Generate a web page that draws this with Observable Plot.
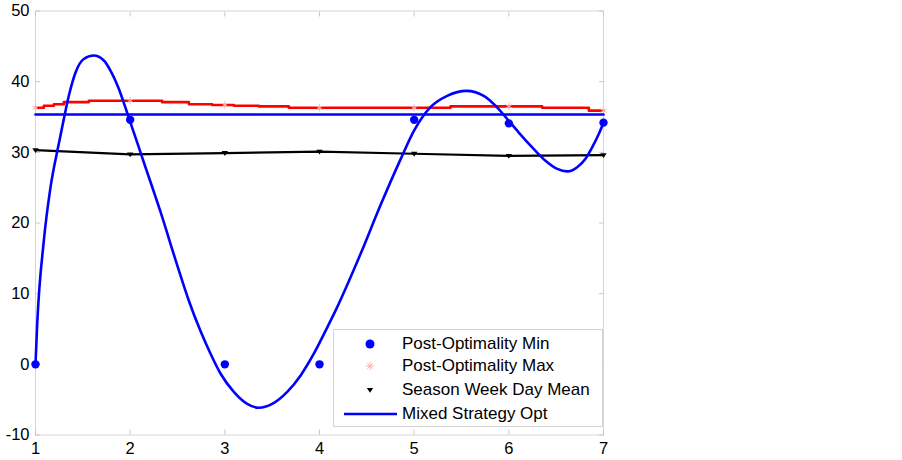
<!DOCTYPE html>
<html><head><meta charset="utf-8">
<script src="https://cdn.jsdelivr.net/npm/d3@7"></script>
<script src="https://cdn.jsdelivr.net/npm/@observablehq/plot@0.6"></script>
<style>
html,body{margin:0;padding:0;background:#fff;}
#wrap{position:relative;width:902px;height:460px;font-family:"Liberation Sans",Arial,sans-serif;}
#legend{position:absolute;left:333px;top:329px;width:270px;height:98px;border:1px solid #d4d4d4;background:#fff;box-sizing:border-box;}
.row{position:absolute;left:0;height:20px;display:flex;align-items:center;font-size:17px;color:#000;white-space:nowrap;}
.row svg{display:block;flex:none;}
</style></head>
<body><div id="wrap"><div id="legend"></div></div>
<script>
// ---- data ----
const days = [1, 2, 3, 4, 5, 6, 7];
const postOptMin = [0, 34.6, 0, 0, 34.6, 34.1, 34.2];
const postOptMax = [36.3, 37.3, 36.7, 36.3, 36.3, 36.5, 35.9];
const seasonMean = [30.3, 29.7, 29.9, 30.1, 29.8, 29.5, 29.6];
const mixedOptLevel = [35.35, 35.35, 35.35, 35.35, 35.35, 35.35, 35.35];

// red staircase trace of the maximum
const maxTraceX = [1, 1.088, 1.194, 1.299, 1.563, 2.338, 2.62, 2.866, 3.095, 3.359, 3.676, 5.384, 6.352, 6.845, 7];
const maxTraceY = [36.3, 36.6, 36.8, 37.1, 37.3, 37.1, 36.8, 36.7, 36.6, 36.5, 36.3, 36.5, 36.3, 35.9, 35.9];

// blue mixed strategy curve
const mixedCurveX = [1.0, 1.018, 1.088, 1.158, 1.246, 1.299, 1.352, 1.423, 1.51, 1.616, 1.722, 1.81, 1.88, 1.943, 2.003, 2.074, 2.144, 2.32, 2.5, 2.62, 2.743, 2.849, 2.954, 3.095, 3.236, 3.359, 3.5, 3.659, 3.799, 3.94, 4.081, 4.187, 4.433, 4.644, 4.856, 5.0, 5.172, 5.349, 5.553, 5.735, 5.859, 5.965, 6.105, 6.247, 6.387, 6.511, 6.616, 6.722, 6.81, 6.88, 6.95, 7.0];
const mixedCurveY = [0, 5.7, 17.5, 25.0, 31.2, 34.7, 38.0, 41.3, 43.2, 43.7, 43.0, 41.1, 39.0, 36.6, 34.2, 31.4, 28.6, 21.6, 13.9, 9.0, 4.7, 1.5, -1.3, -3.9, -5.6, -6.15, -5.6, -3.9, -1.6, 1.5, 5.2, 8.1, 15.6, 22.5, 29.0, 33.1, 36.4, 38.0, 38.7, 38.0, 36.6, 35.0, 32.8, 30.7, 28.8, 27.65, 27.3, 27.9, 29.1, 30.7, 32.6, 34.2];

const xTicks = [1, 2, 3, 4, 5, 6, 7];
const yTicks = [-10, 0, 10, 20, 30, 40, 50];

const seriesNames = ["Post-Optimality Min", "Post-Optimality Max", "Season Week Day Mean", "Mixed Strategy Opt"];

// ---- tables ----
const pts = days.map((d, i) => ({x: d, min: postOptMin[i], max: postOptMax[i], mean: seasonMean[i], opt: mixedOptLevel[i]}));
const maxTrace = maxTraceX.map((x, i) => ({x, y: maxTraceY[i]}));
const curve = mixedCurveX.map((x, i) => ({x, y: mixedCurveY[i]}));

const triDown = {
  draw(ctx, size) {
    const r = Math.sqrt(size / Math.PI);
    ctx.moveTo(-r, -r * 0.6);
    ctx.lineTo(r, -r * 0.6);
    ctx.lineTo(0, r * 0.9);
    ctx.closePath();
  }
};

const chart = Plot.plot({
  width: 902, height: 460,
  marginLeft: 35, marginRight: 299, marginTop: 10.5, marginBottom: 25.5,
  x: {domain: [1, 7]},
  y: {domain: [-10, 50]},
  style: {fontFamily: "'Liberation Sans', Arial, sans-serif", fontSize: "16.5px", color: "#000", background: "#fff"},
  marks: [
    Plot.frame({stroke: "#d6d6d6"}),
    Plot.axisX(xTicks, {anchor: "bottom", tickSize: -5, tickPadding: 12, stroke: "#c8c8c8", color: "#000", label: null, tickFormat: d => String(d)}),
    Plot.axisX(xTicks, {anchor: "top", tickSize: -5, stroke: "#c8c8c8", label: null, tickFormat: () => ""}),
    Plot.axisY(yTicks, {anchor: "left", tickSize: -5, tickPadding: 11, stroke: "#c8c8c8", color: "#000", label: null, tickFormat: d => String(d)}),
    Plot.axisY(yTicks, {anchor: "right", tickSize: -5, stroke: "#c8c8c8", label: null, tickFormat: () => ""}),
    Plot.line(pts, {x: "x", y: "mean", stroke: "#000", strokeWidth: 2.2}),
    Plot.line(maxTrace, {x: "x", y: "y", curve: "step-after", stroke: "#ff0000", strokeWidth: 2.6}),
    Plot.dot(pts, {x: "x", y: "max", symbol: "asterisk", r: 3.5, stroke: "#ffb4b4", strokeWidth: 1}),
    Plot.line(pts, {x: "x", y: "opt", stroke: "#0000ff", strokeWidth: 2.6}),
    Plot.line(curve, {x: "x", y: "y", curve: "monotone-x", stroke: "#0000ff", strokeWidth: 2.6}),
    Plot.dot(pts, {x: "x", y: "min", r: 4.2, fill: "#0000ff"}),
    Plot.dot(pts, {x: "x", y: "mean", symbol: triDown, r: 3.2, fill: "#000"})
  ]
});
document.getElementById("wrap").prepend(chart);

// ---- legend ----
const legend = document.getElementById("legend");
const rowCenters = [13.5, 36, 60, 83.5];
const markerSvgs = [
  `<svg width="68" height="20"><circle cx="36" cy="10" r="4.5" fill="#0000ff"/></svg>`,
  `<svg width="68" height="20"><g stroke="#ffb4b4" stroke-width="1"><line x1="36" y1="6" x2="36" y2="14"/><line x1="32" y1="10" x2="40" y2="10"/><line x1="33.2" y1="7.2" x2="38.8" y2="12.8"/><line x1="33.2" y1="12.8" x2="38.8" y2="7.2"/></g></svg>`,
  `<svg width="68" height="20"><path d="M32.8,8 L39.2,8 L36,12.8 Z" fill="#000"/></svg>`,
  `<svg width="68" height="20"><line x1="10" y1="10" x2="63" y2="10" stroke="#0000ff" stroke-width="2.6"/></svg>`
];
seriesNames.forEach((name, i) => {
  const row = document.createElement("div");
  row.className = "row";
  row.style.top = (rowCenters[i] - 10) + "px";
  row.innerHTML = markerSvgs[i] + `<span>${name}</span>`;
  legend.appendChild(row);
});
</script>
</body></html>
